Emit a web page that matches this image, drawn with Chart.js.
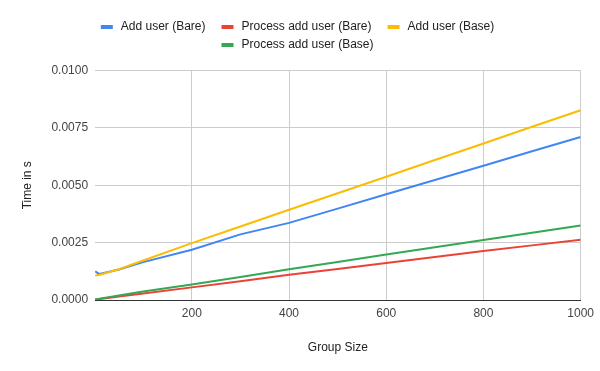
<!DOCTYPE html>
<html>
<head>
<meta charset="utf-8">
<script src="https://cdn.jsdelivr.net/npm/chart.js@4.4.1/dist/chart.umd.min.js"></script>
<style>
html,body{margin:0;padding:0;background:#ffffff;}
#wrap{width:600px;height:371px;}
</style>
</head>
<body>
<div id="wrap"><canvas id="c" width="600" height="371"></canvas></div>
<script>
// ---- data ----
const groupSizes = [1, 10, 50, 100, 200, 300, 400, 500, 600, 700, 800, 900, 1000];
const addUserBare = [0.00125, 0.00113, 0.00133, 0.00165, 0.00219, 0.00286, 0.00336, 0.00398, 0.00461, 0.00523, 0.00585, 0.00648, 0.00710];
const processAddUserBare = [0.00001, 0.00004, 0.00015, 0.00028, 0.00055, 0.00082, 0.00110, 0.00135, 0.00161, 0.00187, 0.00213, 0.00238, 0.00263];
const addUserBase = [0.00107, 0.00110, 0.00134, 0.00172, 0.00248, 0.00320, 0.00393, 0.00465, 0.00537, 0.00610, 0.00682, 0.00755, 0.00827];
const processAddUserBase = [0.00002, 0.00005, 0.00020, 0.00037, 0.00068, 0.00100, 0.00134, 0.00166, 0.00198, 0.00230, 0.00261, 0.00293, 0.00325];
const seriesNames = ['Add user (Bare)', 'Process add user (Bare)', 'Add user (Base)', 'Process add user (Base)'];
const seriesColors = ['#4285F4', '#EA4335', '#FBBC04', '#34A853'];
const xTickValues = [200, 400, 600, 800, 1000];
const yMin = 0, yMax = 0.01, yStep = 0.0025;
const xTitle = 'Group Size';
const yTitle = 'Time in s';

function marker(color) {
  const c = document.createElement('canvas');
  c.width = 24; c.height = 4;
  const g = c.getContext('2d');
  g.fillStyle = color;
  g.fillRect(10, 0, 12, 4);
  return c;
}

const seriesValues = [addUserBare, processAddUserBare, addUserBase, processAddUserBase];
const datasets = seriesValues.map((vals, i) => ({
  label: seriesNames[i],
  data: groupSizes.map((x, j) => ({x: x, y: vals[j]})),
  borderColor: seriesColors[i],
  backgroundColor: seriesColors[i],
  borderWidth: 2,
  pointRadius: 0,
  pointHoverRadius: 0,
  pointStyle: marker(seriesColors[i]),
  tension: 0,
  fill: false,
  order: seriesValues.length - i
}));

const legendSpacer = {
  id: 'legendSpacer',
  afterInit(chart) {
    const lg = chart.legend;
    if (!lg) return;
    const origFit = lg.fit.bind(lg);
    lg.fit = function () { origFit(); this.height += 9.5; };
  },
  afterLayout(chart) {
    const lg = chart.legend;
    if (!lg) return;
    lg.left -= 8;
    lg.right -= 8;
  }
};

const font = {family: "'Liberation Sans', Arial, sans-serif", size: 12};

new Chart(document.getElementById('c'), {
  type: 'line',
  data: {datasets: datasets},
  plugins: [legendSpacer],
  options: {
    responsive: false,
    animation: false,
    devicePixelRatio: 1,
    layout: {padding: {top: 15, left: 20, right: 19, bottom: 16.2}},
    plugins: {
      legend: {
        position: 'top',
        align: 'center',
        maxWidth: 450,
        labels: {
          usePointStyle: true,
          pointStyleWidth: 24,
          padding: 6,
          color: '#222222',
          font: font,
          sort: (a, b) => a.datasetIndex - b.datasetIndex
        }
      },
      tooltip: {enabled: false}
    },
    scales: {
      x: {
        type: 'linear',
        min: 1,
        max: 1000,
        afterBuildTicks: (scale) => { scale.ticks = xTickValues.map(v => ({value: v})); },
        ticks: {
          color: '#444444',
          font: font,
          padding: 6,
          maxRotation: 0,
          callback: (v) => String(v)
        },
        grid: {color: '#cccccc', drawTicks: false, lineWidth: 1},
        border: {display: true, color: '#333333', width: 1},
        title: {display: true, text: xTitle, color: '#222222', font: font, padding: {top: 14, bottom: 0}}
      },
      y: {
        type: 'linear',
        min: yMin,
        max: yMax,
        ticks: {
          stepSize: yStep,
          color: '#444444',
          font: font,
          padding: 7,
          callback: (v) => Number(v).toFixed(4)
        },
        grid: {color: '#cccccc', drawTicks: false, lineWidth: 1},
        border: {display: false},
        title: {display: true, text: yTitle, color: '#222222', font: font, padding: {top: 0, bottom: 10}}
      }
    }
  }
});
</script>
</body>
</html>
